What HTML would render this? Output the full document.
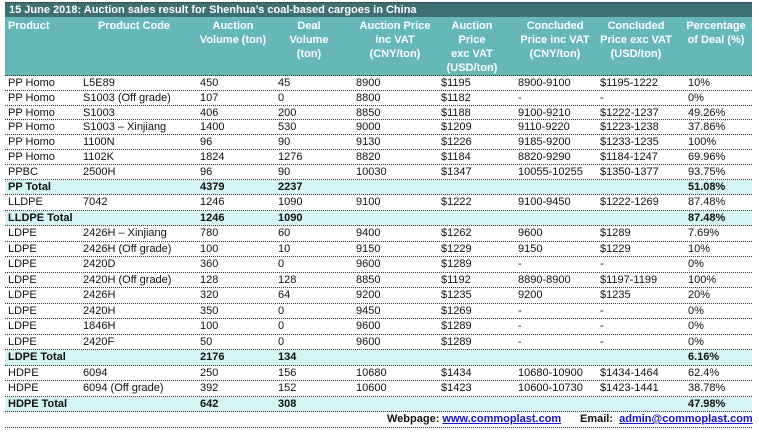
<!DOCTYPE html>
<html><head><meta charset="utf-8"><style>
*{margin:0;padding:0;box-sizing:border-box}
body{width:759px;height:437px;background:#fff;font-family:"Liberation Sans",sans-serif;font-size:11px;color:#111;position:relative;overflow:hidden}
.t{position:absolute;left:5px;top:2px;width:747px;height:15px;background:#3e6f73;color:#fff;font-weight:bold;font-size:11px;line-height:15px;padding-left:4px;border-top:1px dotted #333}
.h{position:absolute;left:5px;top:17px;width:747px;height:59px;background:#66b7b7;color:#fff;font-weight:bold;font-size:11px;border-bottom:1px dotted #333}
.h div{position:absolute;top:2px;line-height:14px;text-align:center}
.r{position:absolute;left:5px;width:747px;line-height:14px;border-bottom:1px dotted #333}
.r span{position:absolute;top:0;white-space:nowrap}
.b{background:#d4f5f3;font-weight:bold}
.r span:nth-child(1){left:3px}.r span:nth-child(2){left:78px}.r span:nth-child(3){left:195px}.r span:nth-child(4){left:273px}.r span:nth-child(5){left:351px}.r span:nth-child(6){left:436px}.r span:nth-child(7){left:513px}.r span:nth-child(8){left:595px}.r span:nth-child(9){left:683px}
.f{position:absolute;left:5px;width:747px;height:16px;border-bottom:1px dotted #333;font-weight:bold;font-size:11px;line-height:15px}
.f span{white-space:nowrap}
.f a{color:#1a0dcc;text-decoration:underline}
</style></head><body>
<div class="t">15 June 2018: Auction sales result for Shenhua’s coal-based cargoes in China</div>
<div class="h">
<div style="left:3px;text-align:left">Product</div>
<div style="left:74px;width:110px">Product Code</div>
<div style="left:183px;width:90px">Auction<br>Volume (ton)</div>
<div style="left:269px;width:70px">Deal<br>Volume<br>(ton)</div>
<div style="left:343px;width:94px">Auction Price<br>inc VAT<br>(CNY/ton)</div>
<div style="left:431px;width:72px">Auction<br>Price<br>exc VAT<br>(USD/ton)</div>
<div style="left:502px;width:96px">Concluded<br>Price inc VAT<br>(CNY/ton)</div>
<div style="left:583px;width:96px">Concluded<br>Price exc VAT<br>(USD/ton)</div>
<div style="left:675px;width:72px">Percentage<br>of Deal (%)</div>
</div>
<div class="r" style="top:76px;height:14.8px"><span>PP Homo</span><span>L5E89</span><span>450</span><span>45</span><span>8900</span><span>$1195</span><span>8900-9100</span><span>$1195-1222</span><span>10%</span></div>
<div class="r" style="top:90.8px;height:14.8px"><span>PP Homo</span><span>S1003 (Off grade)</span><span>107</span><span>0</span><span>8800</span><span>$1182</span><span>-</span><span>-</span><span>0%</span></div>
<div class="r" style="top:105.6px;height:14.8px"><span>PP Homo</span><span>S1003</span><span>406</span><span>200</span><span>8850</span><span>$1188</span><span>9100-9210</span><span>$1222-1237</span><span>49.26%</span></div>
<div class="r" style="top:120.4px;height:14.8px"><span>PP Homo</span><span>S1003 – Xinjiang</span><span>1400</span><span>530</span><span>9000</span><span>$1209</span><span>9110-9220</span><span>$1223-1238</span><span>37.86%</span></div>
<div class="r" style="top:135.2px;height:14.8px"><span>PP Homo</span><span>1100N</span><span>96</span><span>90</span><span>9130</span><span>$1226</span><span>9185-9200</span><span>$1233-1235</span><span>100%</span></div>
<div class="r" style="top:150px;height:14.8px"><span>PP Homo</span><span>1102K</span><span>1824</span><span>1276</span><span>8820</span><span>$1184</span><span>8820-9290</span><span>$1184-1247</span><span>69.96%</span></div>
<div class="r" style="top:164.8px;height:14.8px"><span>PPBC</span><span>2500H</span><span>96</span><span>90</span><span>10030</span><span>$1347</span><span>10055-10255</span><span>$1350-1377</span><span>93.75%</span></div>
<div class="r b" style="top:179.6px;height:15.5px"><span>PP Total</span><span></span><span>4379</span><span>2237</span><span></span><span></span><span></span><span></span><span>51.08%</span></div>
<div class="r" style="top:195.1px;height:15.5px"><span>LLDPE</span><span>7042</span><span>1246</span><span>1090</span><span>9100</span><span>$1222</span><span>9100-9450</span><span>$1222-1269</span><span>87.48%</span></div>
<div class="r b" style="top:210.6px;height:15.5px"><span>LLDPE Total</span><span></span><span>1246</span><span>1090</span><span></span><span></span><span></span><span></span><span>87.48%</span></div>
<div class="r" style="top:226.1px;height:15.5px"><span>LDPE</span><span>2426H – Xinjiang</span><span>780</span><span>60</span><span>9400</span><span>$1262</span><span>9600</span><span>$1289</span><span>7.69%</span></div>
<div class="r" style="top:241.6px;height:15.5px"><span>LDPE</span><span>2426H (Off grade)</span><span>100</span><span>10</span><span>9150</span><span>$1229</span><span>9150</span><span>$1229</span><span>10%</span></div>
<div class="r" style="top:257.1px;height:15.5px"><span>LDPE</span><span>2420D</span><span>360</span><span>0</span><span>9600</span><span>$1289</span><span>-</span><span>-</span><span>0%</span></div>
<div class="r" style="top:272.6px;height:15.5px"><span>LDPE</span><span>2420H (Off grade)</span><span>128</span><span>128</span><span>8850</span><span>$1192</span><span>8890-8900</span><span>$1197-1199</span><span>100%</span></div>
<div class="r" style="top:288.1px;height:15.5px"><span>LDPE</span><span>2426H</span><span>320</span><span>64</span><span>9200</span><span>$1235</span><span>9200</span><span>$1235</span><span>20%</span></div>
<div class="r" style="top:303.6px;height:15.5px"><span>LDPE</span><span>2420H</span><span>350</span><span>0</span><span>9450</span><span>$1269</span><span>-</span><span>-</span><span>0%</span></div>
<div class="r" style="top:319.1px;height:15.5px"><span>LDPE</span><span>1846H</span><span>100</span><span>0</span><span>9600</span><span>$1289</span><span>-</span><span>-</span><span>0%</span></div>
<div class="r" style="top:334.6px;height:15.5px"><span>LDPE</span><span>2420F</span><span>50</span><span>0</span><span>9600</span><span>$1289</span><span>-</span><span>-</span><span>0%</span></div>
<div class="r b" style="top:350.1px;height:15.5px"><span>LDPE Total</span><span></span><span>2176</span><span>134</span><span></span><span></span><span></span><span></span><span>6.16%</span></div>
<div class="r" style="top:365.6px;height:15.5px"><span>HDPE</span><span>6094</span><span>250</span><span>156</span><span>10680</span><span>$1434</span><span>10680-10900</span><span>$1434-1464</span><span>62.4%</span></div>
<div class="r" style="top:381.1px;height:15.5px"><span>HDPE</span><span>6094 (Off grade)</span><span>392</span><span>152</span><span>10600</span><span>$1423</span><span>10600-10730</span><span>$1423-1441</span><span>38.78%</span></div>
<div class="r b" style="top:396.6px;height:15.5px"><span>HDPE Total</span><span></span><span>642</span><span>308</span><span></span><span></span><span></span><span></span><span>47.98%</span></div>
<div class="f" style="top:412.1px"><span style="position:absolute;left:382px">Webpage: <a>www.commoplast.com</a></span><span style="position:absolute;left:575px">Email:&nbsp; <a>admin@commoplast.com</a></span></div>
</body></html>
